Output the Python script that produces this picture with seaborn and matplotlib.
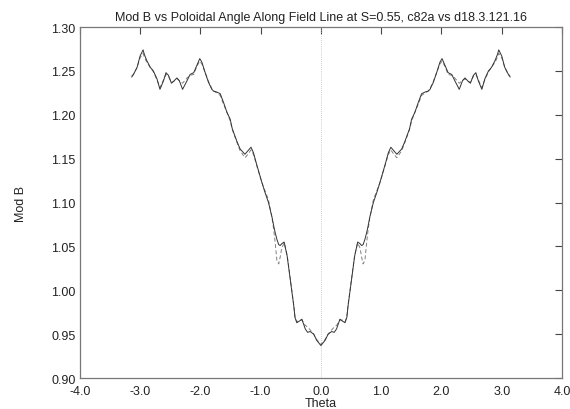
import pandas as pd
import matplotlib
matplotlib.use('Agg')
import matplotlib.pyplot as plt
import seaborn as sns

# Poloidal angle samples
theta = [-3.14, -3.11, -3.05, -3.00, -2.95, -2.93, -2.89, -2.83, -2.78, -2.72,
         -2.67, -2.61, -2.57, -2.53, -2.48, -2.445, -2.39, -2.35, -2.295, -2.22,
         -2.17, -2.11, -2.06, -2.01, -1.975, -1.92, -1.865, -1.81, -1.78, -1.73,
         -1.67, -1.615, -1.56, -1.505, -1.47, -1.39, -1.34, -1.26, -1.21, -1.16,
         -1.12, -1.06, -0.98, -0.93, -0.87, -0.81, -0.785, -0.76, -0.73, -0.70,
         -0.675, -0.65, -0.61, -0.56, -0.51, -0.45, -0.43, -0.40, -0.355, -0.315,
         -0.26, -0.22, -0.18, -0.12, -0.07,
         0.00, 0.07, 0.12, 0.18, 0.22, 0.26, 0.315, 0.355, 0.40, 0.43, 0.45,
         0.51, 0.56, 0.61, 0.65, 0.675, 0.70, 0.73, 0.76, 0.785, 0.81,
         0.87, 0.93, 0.98, 1.06, 1.12, 1.16, 1.21, 1.26, 1.34, 1.39,
         1.47, 1.505, 1.56, 1.615, 1.67, 1.73, 1.78, 1.81, 1.865, 1.92,
         1.975, 2.01, 2.06, 2.11, 2.17, 2.22, 2.295, 2.35, 2.39, 2.445,
         2.48, 2.53, 2.57, 2.61, 2.67, 2.72, 2.78, 2.83, 2.89, 2.93,
         2.95, 3.00, 3.05, 3.11, 3.14]

# Mod B, c82a (solid)
modb_c82a = [1.243, 1.246, 1.254, 1.267, 1.274, 1.269, 1.262, 1.254, 1.250, 1.241,
             1.229, 1.239, 1.248, 1.245, 1.236, 1.238, 1.242, 1.239, 1.229, 1.239,
             1.246, 1.248, 1.256, 1.264, 1.260, 1.248, 1.237, 1.229, 1.227, 1.226,
             1.224, 1.214, 1.203, 1.195, 1.184, 1.169, 1.161, 1.155, 1.159, 1.163,
             1.157, 1.142, 1.123, 1.112, 1.100, 1.083, 1.074, 1.066, 1.058, 1.052,
             1.051, 1.053, 1.055, 1.039, 1.013, 0.982, 0.969, 0.963, 0.965, 0.967,
             0.956, 0.952, 0.953, 0.950, 0.943,
             0.937, 0.943, 0.950, 0.953, 0.952, 0.956, 0.967, 0.965, 0.963, 0.969, 0.982,
             1.013, 1.039, 1.055, 1.053, 1.051, 1.052, 1.058, 1.066, 1.074, 1.083,
             1.100, 1.112, 1.123, 1.142, 1.157, 1.163, 1.159, 1.155, 1.161, 1.169,
             1.184, 1.195, 1.203, 1.214, 1.224, 1.226, 1.227, 1.229, 1.237, 1.248,
             1.260, 1.264, 1.256, 1.248, 1.246, 1.239, 1.229, 1.239, 1.242, 1.238,
             1.236, 1.245, 1.248, 1.239, 1.229, 1.241, 1.250, 1.254, 1.262, 1.269,
             1.274, 1.267, 1.254, 1.246, 1.243]

# Mod B, d18.3.121.16 (dashed)
modb_d18 = [1.244, 1.246, 1.254, 1.265, 1.270, 1.266, 1.260, 1.254, 1.249, 1.240,
            1.231, 1.240, 1.246, 1.244, 1.237, 1.238, 1.241, 1.239, 1.236, 1.242,
            1.245, 1.246, 1.255, 1.261, 1.258, 1.248, 1.238, 1.230, 1.227, 1.225,
            1.222, 1.212, 1.203, 1.193, 1.183, 1.168, 1.159, 1.151, 1.155, 1.160,
            1.155, 1.141, 1.123, 1.114, 1.103, 1.082, 1.070, 1.055, 1.034, 1.030,
            1.038, 1.048, 1.054, 1.040, 1.014, 0.983, 0.970, 0.964, 0.966, 0.966,
            0.960, 0.958, 0.955, 0.950, 0.944,
            0.938, 0.944, 0.950, 0.955, 0.958, 0.960, 0.966, 0.966, 0.964, 0.970, 0.983,
            1.014, 1.040, 1.054, 1.048, 1.038, 1.030, 1.034, 1.055, 1.070, 1.082,
            1.103, 1.114, 1.123, 1.141, 1.155, 1.160, 1.155, 1.151, 1.159, 1.168,
            1.183, 1.193, 1.203, 1.212, 1.222, 1.225, 1.227, 1.230, 1.238, 1.248,
            1.258, 1.261, 1.255, 1.246, 1.245, 1.242, 1.236, 1.239, 1.241, 1.238,
            1.237, 1.244, 1.246, 1.240, 1.231, 1.240, 1.249, 1.254, 1.260, 1.266,
            1.270, 1.265, 1.254, 1.246, 1.244]

x_ticks = [-4.0, -3.0, -2.0, -1.0, 0.0, 1.0, 2.0, 3.0, 4.0]
y_ticks = [0.90, 0.95, 1.00, 1.05, 1.10, 1.15, 1.20, 1.25, 1.30]

df = pd.DataFrame({'theta': theta, 'c82a': modb_c82a, 'd18': modb_d18})

sns.set_style('white')
plt.rcParams['font.family'] = ['Liberation Sans', 'DejaVu Sans']

fig = plt.figure(figsize=(5.7, 4.1), dpi=100)
ax = fig.add_axes([0.140, 0.0756, 0.846, 0.856])

ax.axvline(0, color='#bbbbbb', lw=0.6, ls=(0, (1, 1.5)), zorder=1)
sns.lineplot(data=df, x='theta', y='d18', ax=ax, color='#808080', lw=0.7,
             linestyle=(0, (4, 2.5)), sort=False, zorder=2)
sns.lineplot(data=df, x='theta', y='c82a', ax=ax, color='#333333', lw=0.7,
             sort=False, zorder=3)

ax.set_xlim(-4, 4)
ax.set_ylim(0.90, 1.30)
ax.set_xticks(x_ticks)
ax.set_yticks(y_ticks)
ax.set_xticklabels([f'{t:.1f}' for t in x_ticks])
ax.set_yticklabels([f'{t:.2f}' for t in y_ticks])
ax.tick_params(direction='in', length=5, width=0.8, color='#444444',
               top=True, right=True, labelsize=9, pad=3, labelcolor='#222222')
ax.tick_params(axis='x', pad=5)
for s in ax.spines.values():
    s.set_color('#777777')
    s.set_linewidth(0.9)

ax.set_title('Mod B vs Poloidal Angle Along Field Line at S=0.55, c82a vs d18.3.121.16',
             fontsize=9, pad=5, color='#222222')
ax.set_xlabel('Theta', fontsize=9, color='#222222')
ax.set_ylabel('Mod B', fontsize=9, color='#222222')
ax.xaxis.set_label_coords(0.5, -0.054)
ax.yaxis.set_label_coords(-0.11, 0.5)

fig.savefig('out.png', dpi=100)
